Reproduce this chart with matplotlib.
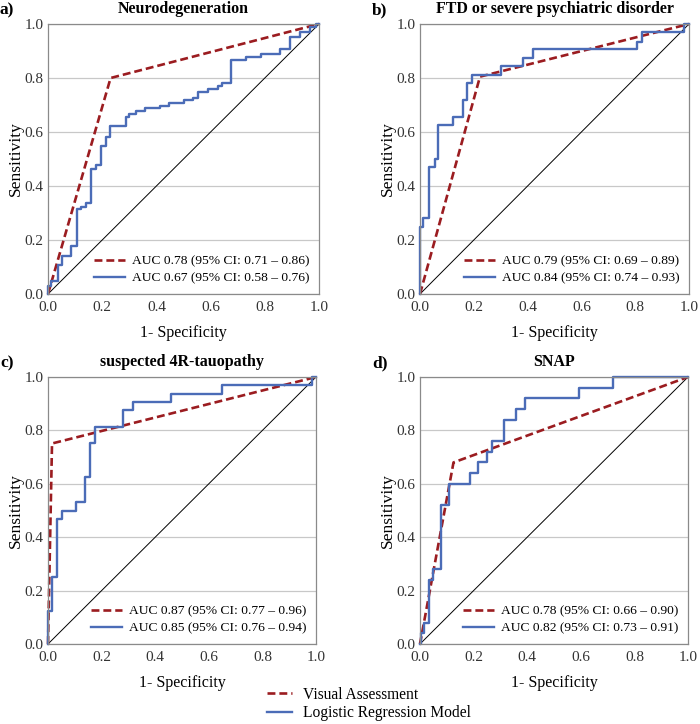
import matplotlib.pyplot as plt
from matplotlib.lines import Line2D

plt.rcParams['font.family'] = ['Liberation Serif', 'DejaVu Serif']

# ROC data (fpr = 1-specificity, tpr = sensitivity)
titles = ["Neurodegeneration", "FTD or severe psychiatric disorder",
          "suspected 4R-tauopathy", "SNAP"]
letters = ["a)", "b)", "c)", "d)"]

va_fpr = [[0, 0.231, 1], [0, 0.223, 1], [0, 0.015, 1], [0, 0.125, 1]]
va_tpr = [[0, 0.80, 1], [0, 0.805, 1], [0, 0.751, 1], [0, 0.68, 1]]

lr_fpr_a = [0, 0, 0.012, 0.037, 0.053, 0.086, 0.107, 0.123, 0.141, 0.16, 0.178,
            0.194, 0.213, 0.23, 0.287, 0.30, 0.323, 0.357, 0.412, 0.446, 0.502,
            0.535, 0.553, 0.59, 0.627, 0.643, 0.677, 0.732, 0.787, 0.857, 0.892,
            0.929, 0.966, 0.99, 1.0]
lr_tpr_a = [0, 0.03, 0.047, 0.106, 0.139, 0.179, 0.316, 0.324, 0.338, 0.462, 0.476,
            0.55, 0.583, 0.623, 0.655, 0.666, 0.676, 0.688, 0.697, 0.707, 0.719,
            0.727, 0.75, 0.76, 0.771, 0.78, 0.867, 0.879, 0.889, 0.908, 0.951,
            0.972, 0.99, 1.0, 1.0]

lr_fpr_b = [0, 0, 0.01, 0.035, 0.056, 0.068, 0.121, 0.159, 0.176, 0.192, 0.30,
            0.384, 0.42, 0.808, 0.825, 0.98, 1.0]
lr_tpr_b = [0, 0.25, 0.282, 0.47, 0.5, 0.625, 0.656, 0.72, 0.78, 0.81, 0.844,
            0.875, 0.906, 0.935, 0.969, 1.0, 1.0]

lr_fpr_c = [0, 0, 0.015, 0.034, 0.052, 0.106, 0.139, 0.155, 0.176, 0.28, 0.317,
            0.458, 0.648, 0.984, 1.0]
lr_tpr_c = [0, 0.125, 0.25, 0.468, 0.5, 0.53, 0.626, 0.751, 0.813, 0.875, 0.906,
            0.938, 0.969, 1.0, 1.0]

lr_fpr_d = [0, 0.004, 0.015, 0.034, 0.047, 0.077, 0.108, 0.186, 0.217, 0.25, 0.267,
            0.313, 0.358, 0.391, 0.594, 0.72, 1.0]
lr_tpr_d = [0, 0.04, 0.08, 0.24, 0.28, 0.52, 0.60, 0.64, 0.68, 0.72, 0.76,
            0.84, 0.88, 0.92, 0.96, 1.0, 1.0]

lr_fpr = [lr_fpr_a, lr_fpr_b, lr_fpr_c, lr_fpr_d]
lr_tpr = [lr_tpr_a, lr_tpr_b, lr_tpr_c, lr_tpr_d]

va_labels = ["AUC 0.78 (95% CI: 0.71 \u2013 0.86)", "AUC 0.79 (95% CI: 0.69 \u2013 0.89)",
             "AUC 0.87 (95% CI: 0.77 \u2013 0.96)", "AUC 0.78 (95% CI: 0.66 \u2013 0.90)"]
lr_labels = ["AUC 0.67 (95% CI: 0.58 \u2013 0.76)", "AUC 0.84 (95% CI: 0.74 \u2013 0.93)",
             "AUC 0.85 (95% CI: 0.76 \u2013 0.94)", "AUC 0.82 (95% CI: 0.73 \u2013 0.91)"]

red = "#9b1c20"
blue = "#4b6cb7"

W, H = 700, 724
fig = plt.figure(figsize=(7, 7.24), dpi=100)

# axes boxes in pixels: left, top, right, bottom
boxes = [(48, 24, 319, 294), (420, 24, 689, 294),
         (48, 377, 316, 644), (420, 377, 688, 644)]

for i in range(4):
    l, t, r, b = boxes[i]
    ax = fig.add_axes([l / W, 1 - b / H, (r - l) / W, (b - t) / H])
    ax.set_xlim(0, 1)
    ax.set_ylim(0, 1)
    ax.set_xticks([0, 0.2, 0.4, 0.6, 0.8, 1.0])
    ax.set_yticks([0, 0.2, 0.4, 0.6, 0.8, 1.0])
    ax.set_xticklabels(["0.0", "0.2", "0.4", "0.6", "0.8", "1.0"])
    ax.set_yticklabels(["0.0", "0.2", "0.4", "0.6", "0.8", "1.0"])
    ax.tick_params(axis="x", length=0, labelsize=11, pad=5, colors="#333333")
    ax.tick_params(axis="y", length=0, labelsize=11, pad=3, colors="#333333")
    ax.grid(axis="y", color="#c8c8c8", linewidth=0.9)
    ax.set_axisbelow(True)
    for s in ax.spines.values():
        s.set_color("#8a8a8a")
        s.set_linewidth(0.9)

    ax.plot([0, 1], [0, 1], color="black", linewidth=0.7)
    ax.plot(va_fpr[i], va_tpr[i], color=red, linewidth=1.9, dashes=(3, 1.5),
            label=va_labels[i], clip_on=False)
    ax.plot(lr_fpr[i], lr_tpr[i], color=blue, linewidth=1.7, drawstyle="steps-post",
            label=lr_labels[i], clip_on=False)

    ax.set_title(titles[i], fontsize=11.5, fontweight="bold", pad=8)
    ax.set_xlabel("1- Specificity", fontsize=11.5, labelpad=8)
    ax.set_ylabel("Sensitivity", fontsize=12.5, labelpad=1)
    ax.legend(loc="lower right", frameon=False, fontsize=9.7, handlelength=2.3,
              handletextpad=0.5, labelspacing=0.35, borderaxespad=0.3)

    fig.text((l - 48 + 0) / W, 1 - (t - 14) / H, letters[i], fontsize=12.5,
             fontweight="bold", ha="left", va="center")

handles = [Line2D([], [], color=red, linewidth=1.9, dashes=(3, 1.5)),
           Line2D([], [], color=blue, linewidth=1.7)]
fig.legend(handles, ["Visual Assessment", "Logistic Regression Model"],
           loc="upper left", bbox_to_anchor=(0.37, 0.062), frameon=False,
           fontsize=11.2, handlelength=1.6, handletextpad=0.7, labelspacing=0.15,
           borderpad=0)

fig.savefig("out.png", dpi=100)
